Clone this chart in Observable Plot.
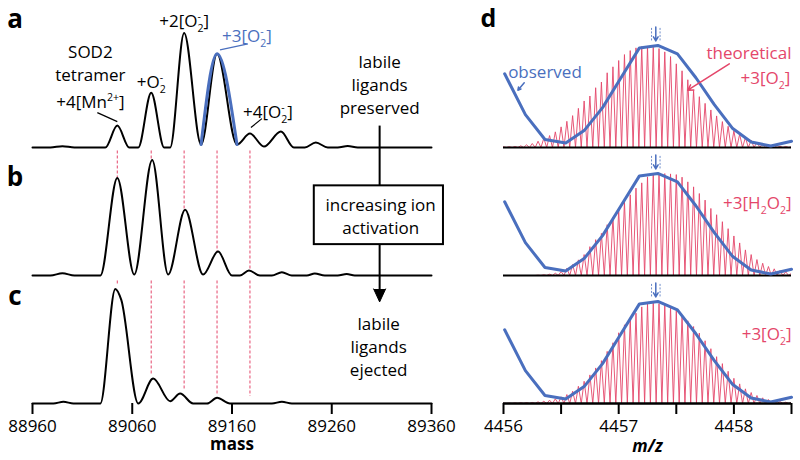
<!DOCTYPE html>
<html><head><meta charset="utf-8">
<script src="https://cdn.jsdelivr.net/npm/d3@7"></script>
<script src="https://cdn.jsdelivr.net/npm/@observablehq/plot@0.6"></script>
<style>
body{margin:0;background:#fff;}
#wrap{display:flex;width:800px;height:460px;background:#fff;}
#wrap svg{overflow:visible;}
</style></head><body><div id="wrap"></div>
<script>
const BLUE = "#4a6fbe", RED = "#e4466a";
const FONT = "'Open Sans', sans-serif";

// ---------------- data ----------------
const panels = ["a", "b", "c"];
const massTicks = [88960, 89060, 89160, 89260, 89360];
const mzTicks = [4456, 4456.5, 4457, 4457.5, 4458, 4458.5];

// deconvolved mass spectra (mass, intensity) read as peak tops and valleys
const spectrumA = [[88960,0],[88978,0],[88990,1.3],[89002,0],[89033,0],[89045,22],[89057,0],[89066,0],[89079,55],[89092,0],[89098,0],[89112,115],[89129,3],[89145,94],[89165,3],[89178,14],[89192,1],[89209,16],[89222,0],[89233,0],[89244,5],[89256,0],[89266,0],[89276,1.5],[89286,0],[89360,0]];
const peak3A = [[89129,3],[89145,94],[89165,3]];
const spectrumB = [[88960,0],[88978,0],[88990,2.3],[89002,0],[89028,0],[89045,98],[89062,1],[89080,116],[89096,1],[89113,66],[89131,1],[89146,24],[89160,0],[89168,0],[89177,5],[89188,0],[89200,0],[89210,3.3],[89220,0],[89235,0],[89243,2],[89253,0],[89266,0],[89275,1.5],[89283,0],[89360,0]];
const spectrumC = [[88960,0],[88981,0],[88991,1.7],[89001,0],[89028,0],[89043,115],[89049,104],[89066,0],[89081,25],[89098,2.3],[89108,10],[89121,0],[89135,0],[89145,5.7],[89158,0],[89200,0],[89210,1.7],[89220,0],[89360,0]];

// reference masses (red dashed) and where each dashed line ends in panels b and c
const refMass = [89045, 89079, 89112, 89145, 89178];
const refTop = 125;
const refEndB = [98, 115, 66, 24, 6];
const refEndC = [119, 29, 14, 9, 7];

// isotopic distributions (theoretical), charge 20+ => spacing 0.05 m/z from 4456.00
const isoStart = 4456, isoStep = 0.05;
const theoO2 = [0.7,0.8,1,1.7,2.7,4,6.3,9.3,12,15.7,20.7,26.3,32,39.3,46.7,51.7,60,65.7,75,81,87.3,93.3,97.3,100,101.3,101.7,100.7,99.3,96,91.3,84,77,68,57.3,51,44.3,37.7,31.7,26,21.3,16.7,13.3,10,7.3,5.3,4,2.7,2,1.3,1,0.7];
const theoH2O2 = [0,0,0,0,0,0,0.3,0.7,1.3,2.3,4,7.3,11,15.7,21,29,36,42.3,51,58.7,66,74,81,87.7,93,99,101,102,102.3,102,101.3,98.7,94,89,82.3,75.7,67.3,61,54,47,39.7,32.7,25.7,21,16,12.3,9,6.7,5,3.7,2.3];
const theoO2m = [0.3,0.3,0.5,0.7,0.8,1,1.7,2.3,3.3,4.7,6.7,9,12.3,17.3,22.3,28.7,35.7,43,52.3,61,71,79,85.3,90.7,97,100,100.7,100.3,99.3,97.3,93.3,88.7,83,77.3,70.7,63,55,47,40,32.3,25.3,19.7,14.7,11,8,5.7,4,2.7,2,1.3,1];

// observed m/z spectrum (same in each panel)
const obsMz = [4456.01,4456.19,4456.36,4456.54,4456.70,4456.86,4457.02,4457.18,4457.34,4457.51,4457.67,4457.83,4457.99,4458.15,4458.32,4458.5];
const obsInt = [74,33,8,4.5,17,40,70,100,102.5,94,70,43,19,5.5,1.5,6.3];
const obsCentroid = 4457.322;

// ---------------- build tables ----------------
const rows = (pts, fy) => pts.map(([mass, v]) => ({mass, v, fy}));
const spec = [...rows(spectrumA, "a"), ...rows(spectrumB, "b"), ...rows(spectrumC, "c")];
const blue3 = rows(peak3A, "a");
const refRows = [
  ...refMass.map((m, i) => ({fy: "b", mass: m, y1: refTop, y2: refEndB[i]})),
  ...refMass.map((m, i) => ({fy: "c", mass: m, y1: refTop - 2, y2: refEndC[i]}))
];

const textA = [
  {fy: "a", x: 89018, y: 97, t: "SOD2", c: "black"},
  {fy: "a", x: 89018, y: 74, t: "tetramer", c: "black"},
  {fy: "a", x: 89018, y: 47, t: "+4[Mn^{2+}]", c: "black"},
  {fy: "a", x: 89079, y: 67, t: "+O_{2}^{-}", c: "black"},
  {fy: "a", x: 89112, y: 128, t: "+2[O_{2}^{-}]", c: "black"},
  {fy: "a", x: 89175, y: 113, t: "+3[O_{2}^{-}]", c: BLUE},
  {fy: "a", x: 89196, y: 37, t: "+4[O_{2}^{-}]", c: "black"},
  {fy: "a", x: 89308, y: 64, t: "labile\nligands\npreserved", c: "black"},
  {fy: "b", x: 89309, y: 60.5, t: "increasing ion\nactivation", c: "black"},
  {fy: "c", x: 89307, y: 58, t: "labile\nligands\nejected", c: "black"}
];
const leadersA = [
  {fy: "a", x1: 89025, y1: 35, x2: 89045, y2: 26, c: "black"},
  {fy: "a", x1: 89148, y1: 98, x2: 89176, y2: 104, c: BLUE},
  {fy: "a", x1: 89179, y1: 20, x2: 89190, y2: 29, c: "black"}
];
const letters = [
  {fy: "a", y: 120, t: "a"}, {fy: "b", y: 90, t: "b"}, {fy: "c", y: 99, t: "c"}
];

const left = Plot.plot({
  width: 470, height: 460,
  marginLeft: 32, marginRight: 39, marginTop: 18.5, marginBottom: 56,
  style: {fontFamily: FONT, fontSize: "17px", color: "black", background: "white", overflow: "visible"},
  fy: {domain: panels, padding: 0, axis: null},
  x: {domain: [88960, 89360]},
  y: {domain: [0, 128.5], axis: null},
  marks: [
    Plot.ruleX(refRows, {x: "mass", y1: "y1", y2: "y2", fy: "fy", stroke: RED, strokeWidth: 1, strokeDasharray: "3,2"}),
    Plot.line(spec, {x: "mass", y: "v", fy: "fy", z: "fy", curve: "monotone-x", stroke: "black", strokeWidth: 2}),
    Plot.line(blue3, {x: "mass", y: "v", fy: "fy", curve: "monotone-x", stroke: BLUE, strokeWidth: 3}),
    Plot.link(leadersA, {x1: "x1", y1: "y1", x2: "x2", y2: "y2", fy: "fy", stroke: "c", strokeWidth: 1.2}),
    Plot.ruleX([{fy: "b"}], {x: () => 89308, y1: () => 150, y2: () => -21, fy: "fy", stroke: "black", strokeWidth: 2}),
    Plot.vector([{fy: "b"}], {x: () => 89308, y: () => -20, fy: "fy", shape: "spike", length: 13, r: 6, rotate: 180, fill: "black", stroke: "black", strokeWidth: 1}),
    Plot.rect([{fy: "b"}], {x1: () => 89242.5, x2: () => 89372, y1: () => 31, y2: () => 90, fy: "fy", fill: "white", stroke: "black", strokeWidth: 2}),
    Plot.text(textA, {x: "x", y: "y", text: "t", fy: "fy", fill: "c", fontSize: 17, lineHeight: 1.33}),
    Plot.text(letters, {x: () => 88942.5, y: "y", text: "t", fy: "fy", fontSize: 26, fontWeight: "bold", lineAnchor: "bottom"}),
    Plot.text([{fy: "c"}], {text: () => "mass", fy: "fy", frameAnchor: "bottom", lineAnchor: "middle", dy: 41, fontSize: 17, fontWeight: "bold"}),
    Plot.axisX({ticks: massTicks, tickFormat: d => String(d), tickSize: 11, tickPadding: 5, strokeWidth: 2, label: null, facetAnchor: "bottom", fontSize: 17})
  ]
});

// right panel
const isoRows = [];
[["a", theoO2], ["b", theoH2O2], ["c", theoO2m]].forEach(([fy, hs]) => {
  hs.forEach((h, i) => {
    const mz = isoStart + i * isoStep;
    isoRows.push({fy, mz: mz - isoStep / 2, v: 0});
    isoRows.push({fy, mz, v: h});
  });
  isoRows.push({fy, mz: isoStart + (hs.length - 0.5) * isoStep, v: 0});
});
const obsRows = panels.flatMap(fy => obsMz.map((mz, i) => ({fy, mz, v: obsInt[i]})));
const markerRows = panels.flatMap(fy => [{fy, mz: obsCentroid - 0.037}, {fy, mz: obsCentroid + 0.037}]);
const textObs = [{fy: "a", x: 4456.36, y: 75, t: "observed"}];
const textTheo = [
  {fy: "a", x: 4458.5, y: 94, t: "theoretical"},
  {fy: "a", x: 4458.49, y: 69, t: "+3[O_{2}]"},
  {fy: "b", x: 4458.5, y: 72, t: "+3[H_{2}O_{2}]"},
  {fy: "c", x: 4458.5, y: 69, t: "+3[O_{2}^{-}]"}
];
const arrowsD = [
  {fy: "a", x1: 4456.18, y1: 65, x2: 4456.125, y2: 57.5, c: BLUE},
  {fy: "a", x1: 4457.96, y1: 84, x2: 4457.60, y2: 57.5, c: RED}
];

const right = Plot.plot({
  width: 330, height: 460,
  marginLeft: 33, marginRight: 9, marginTop: 18.5, marginBottom: 56,
  style: {fontFamily: FONT, fontSize: "17px", color: "black", background: "white", overflow: "visible"},
  fy: {domain: panels, padding: 0, axis: null},
  x: {domain: [4456, 4458.5]},
  y: {domain: [0, 128.5], axis: null},
  marks: [
    Plot.line(isoRows, {x: "mz", y: "v", fy: "fy", z: "fy", stroke: RED, strokeWidth: 0.9, clip: true}),
    Plot.ruleY(panels.map(fy => ({fy})), {y: () => 0, fy: "fy", stroke: "black", strokeWidth: 2}),
    Plot.line(obsRows, {x: "mz", y: "v", fy: "fy", z: "fy", stroke: BLUE, strokeWidth: 3, strokeLinejoin: "round"}),
    Plot.ruleX(markerRows, {x: "mz", y1: () => 107, y2: () => 121, fy: "fy", stroke: BLUE, strokeWidth: 1, strokeDasharray: "2,1.5", strokeOpacity: 0.8}),
    Plot.arrow(panels.map(fy => ({fy})), {x1: () => obsCentroid, x2: () => obsCentroid, y1: () => 121, y2: () => 107, fy: "fy", stroke: BLUE, strokeWidth: 1.5, headLength: 6}),
    Plot.arrow(arrowsD, {x1: "x1", y1: "y1", x2: "x2", y2: "y2", fy: "fy", stroke: "c", strokeWidth: 1.5, headLength: 6}),
    Plot.text(textObs, {x: "x", y: "y", text: "t", fy: "fy", fill: BLUE, fontSize: 17}),
    Plot.text(textTheo, {x: "x", y: "y", text: "t", fy: "fy", fill: RED, textAnchor: "end", fontSize: 17}),
    Plot.text([{fy: "a"}], {x: () => 4455.87, y: () => 121, text: () => "d", fy: "fy", fontSize: 25, fontWeight: "bold", lineAnchor: "bottom"}),
    Plot.text([{fy: "c"}], {text: () => "m/z", fy: "fy", frameAnchor: "bottom", lineAnchor: "middle", dy: 43, fontSize: 17, fontWeight: "bold", fontStyle: "italic"}),
    Plot.axisX({ticks: mzTicks, tickFormat: d => Number.isInteger(d) ? String(d) : "", tickSize: 11, tickPadding: 5, strokeWidth: 2, label: null, facetAnchor: "bottom", fontSize: 17}),
    Plot.ruleY([{fy: "c"}], {y: () => 0, fy: "fy", stroke: "black", strokeWidth: 2})
  ]
});

document.getElementById("wrap").append(left, right);

// chemical sub/superscripts: _{..} lowered, ^{..} raised (stacked over a preceding subscript)
const NS = "http://www.w3.org/2000/svg";
function richText(t) {
  const s = t.textContent;
  if (!/[_^]\{/.test(s)) return;
  const fs = parseFloat(t.getAttribute("font-size")) || parseFloat(getComputedStyle(t).fontSize) || 17;
  const small = fs * 0.62;
  t.textContent = "";
  const re = /([_^])\{([^}]*)\}|([^_^]+)/g;
  let m, shift = 0, prevSub = null;
  while ((m = re.exec(s))) {
    const ts = document.createElementNS(NS, "tspan");
    if (m[3] !== undefined) {
      ts.textContent = m[3];
      if (shift) ts.setAttribute("dy", -shift);
      if (prevSub && prevSub.pending) ts.setAttribute("dx", prevSub.pending);
      shift = 0; prevSub = null;
      t.appendChild(ts);
    } else {
      const target = m[1] === "_" ? fs * 0.3 : -fs * 0.42;
      ts.setAttribute("font-size", small);
      ts.textContent = m[2];
      ts.setAttribute("dy", target - shift);
      shift = target;
      t.appendChild(ts);
      if (m[1] === "^" && prevSub) {
        const w = prevSub.el.getComputedTextLength();
        ts.setAttribute("dx", -w);
        const w2 = ts.getComputedTextLength();
        prevSub = {el: ts, pending: Math.max(0, w - w2)};
      } else {
        prevSub = m[1] === "_" ? {el: ts, pending: 0} : null;
      }
    }
  }
}
document.querySelectorAll("#wrap svg text").forEach(richText);
</script>
</body></html>
